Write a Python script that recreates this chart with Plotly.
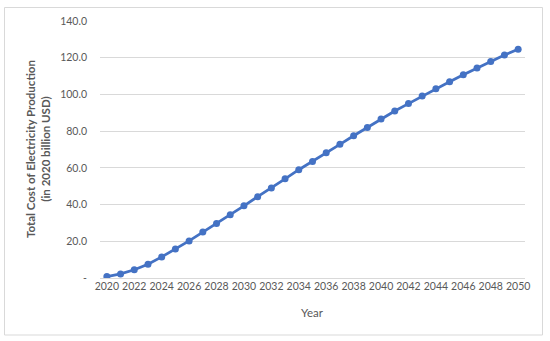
import plotly.graph_objects as go

years = list(range(2020, 2051))
cost = [0.8, 2.2, 4.5, 7.5, 11.5, 15.8, 20.2, 25.0, 29.7, 34.4, 39.3, 44.3, 49.0,
        54.0, 59.0, 63.5, 68.2, 72.8, 77.5, 82.0, 86.6, 91.0, 95.0, 99.1, 103.1,
        106.9, 110.7, 114.4, 118.0, 121.5, 124.6]
y_ticks = [0, 20, 40, 60, 80, 100, 120, 140]
y_ticktext = ["-", "20.0", "40.0", "60.0", "80.0", "100.0", "120.0", "140.0"]
x_ticks = list(range(2020, 2051, 2))

FONT = "Lato"
GRAY = "#595959"

fig = go.Figure()
fig.add_trace(go.Scatter(
    x=years, y=cost, mode="lines+markers",
    line=dict(color="#4472C4", width=2.8),
    marker=dict(color="#4472C4", size=7),
    showlegend=False,
))

fig.update_layout(
    width=550, height=341,
    margin=dict(l=100, r=25, t=21, b=63),
    paper_bgcolor="white", plot_bgcolor="white",
    font=dict(family=FONT, color=GRAY, size=10),
    xaxis=dict(
        range=[2019.5, 2050.5], tickvals=x_ticks, ticktext=[str(v) for v in x_ticks],
        showgrid=False, zeroline=False, showline=False, ticks="",
        tickfont=dict(family=FONT, size=10.5, color=GRAY), tickangle=0,
    ),
    yaxis=dict(
        range=[0, 140], tickvals=y_ticks, ticktext=y_ticktext,
        showgrid=True, gridcolor="#D9D9D9", gridwidth=1,
        zeroline=True, zerolinecolor="#D9D9D9", zerolinewidth=1,
        showline=False, ticks="", ticklabelstandoff=12,
        tickfont=dict(family=FONT, size=10.5, color=GRAY),
    ),
    shapes=[dict(
        type="rect", xref="paper", yref="paper",
        x0=(4.5 - 100) / 425, x1=(542.5 - 100) / 425,
        y0=(278 - 335) / 257, y1=(278 - 7.5) / 257,
        line=dict(color="#D9D9D9", width=1), fillcolor="rgba(0,0,0,0)", layer="below",
    )],
    annotations=[
        dict(text="<b>Total Cost of Electricity Production<br>(in 2020 billion USD)</b>",
             xref="paper", yref="paper", x=(37.5 - 100) / 425, y=0.5,
             xanchor="center", yanchor="middle", textangle=-90, showarrow=False,
             font=dict(family=FONT, size=11.5, color=GRAY)),
        dict(text="Year", xref="paper", yref="paper", x=0.5, y=-0.1325,
             xanchor="center", yanchor="middle", showarrow=False,
             font=dict(family=FONT, size=11.5, color=GRAY)),
    ],
)

fig.write_html("out.html", config={"displayModeBar": False},
               post_script="document.body.style.margin='0';document.body.style.overflow='hidden';")
